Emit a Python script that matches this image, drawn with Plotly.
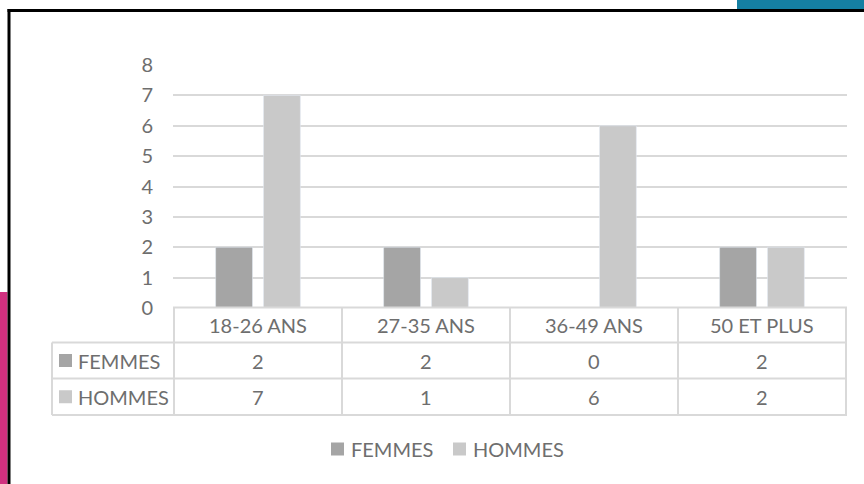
import plotly.graph_objects as go

# Age groups and headcounts per sex
categories = ["18-26 ANS", "27-35 ANS", "36-49 ANS", "50 ET PLUS"]
femmes = [2, 2, 0, 2]
hommes = [7, 1, 6, 2]
series_names = ["FEMMES", "HOMMES"]
y_ticks = [0, 1, 2, 3, 4, 5, 6, 7, 8]

W, H = 864, 484
FONT = "Lato"
FS = 20
TEXT = "#6e6e6e"
GRID = "#d9d9d9"
COL_F = "#a5a5a5"
COL_H = "#c9c9c9"


def px(x):
    return x / W


def py(y):
    return 1 - y / H


fig = go.Figure()
fig.add_trace(go.Bar(x=categories, y=femmes, name=series_names[0], marker_color=COL_F))
fig.add_trace(go.Bar(x=categories, y=hommes, name=series_names[1], marker_color=COL_H))

shapes = []
annotations = []

# Page decoration: black frame edges, teal tab and magenta band
shapes.append(dict(type="rect", xref="paper", yref="paper", x0=px(737), x1=px(864),
                   y0=py(0), y1=py(9), fillcolor="#157fa2", line_width=0, layer="below"))
shapes.append(dict(type="rect", xref="paper", yref="paper", x0=px(0), x1=px(7.5),
                   y0=py(292), y1=py(484), fillcolor="#d1307f", line_width=0, layer="below"))
shapes.append(dict(type="line", xref="paper", yref="paper", x0=px(7.5), x1=px(864),
                   y0=py(10.5), y1=py(10.5), line=dict(color="black", width=3)))
shapes.append(dict(type="line", xref="paper", yref="paper", x0=px(9), x1=px(9),
                   y0=py(9), y1=py(484), line=dict(color="black", width=3)))

# Data table beneath the plot
t_left, t_x0, t_x1 = 52, 173, 847
r_top, r1, r2, r3 = 307.5, 342.5, 378.5, 415
line = dict(color=GRID, width=2)
shapes.append(dict(type="line", xref="paper", yref="paper", x0=px(t_x0), x1=px(t_x1),
                   y0=py(r_top), y1=py(r_top), line=line))
for ry in (r1, r2, r3):
    shapes.append(dict(type="line", xref="paper", yref="paper", x0=px(t_left), x1=px(t_x1),
                       y0=py(ry), y1=py(ry), line=line))
shapes.append(dict(type="line", xref="paper", yref="paper", x0=px(t_left), x1=px(t_left),
                   y0=py(r1), y1=py(r3), line=line))
for i in range(len(categories) + 1):
    shapes.append(dict(type="line", xref="x", yref="paper", x0=i - 0.5, x1=i - 0.5,
                       y0=py(r_top), y1=py(r3), line=line))

# Header row: category labels
for c in categories:
    annotations.append(dict(x=c, xref="x", y=py((r_top + r1) / 2), yref="paper",
                            text=c, showarrow=False, font=dict(family=FONT, size=FS, color=TEXT),
                            xanchor="center", yanchor="middle"))

# Value rows with series keys
for name, vals, col, (ya, yb) in ((series_names[0], femmes, COL_F, (r1, r2)),
                                  (series_names[1], hommes, COL_H, (r2, r3))):
    yc = (ya + yb) / 2
    shapes.append(dict(type="rect", xref="paper", yref="paper", x0=px(59), x1=px(72),
                       y0=py(yc - 6.5), y1=py(yc + 6.5), fillcolor=col, line_width=0))
    annotations.append(dict(x=px(76), xref="paper", y=py(yc), yref="paper", text=name,
                            showarrow=False, font=dict(family=FONT, size=FS, color=TEXT),
                            xanchor="left", yanchor="middle"))
    for c, v in zip(categories, vals):
        annotations.append(dict(x=c, xref="x", y=py(yc), yref="paper", text=str(v),
                                showarrow=False, font=dict(family=FONT, size=FS, color=TEXT),
                                xanchor="center", yanchor="middle"))

# Legend below the table
ly = 449
for name, col, sx in ((series_names[0], COL_F, 331), (series_names[1], COL_H, 453)):
    shapes.append(dict(type="rect", xref="paper", yref="paper", x0=px(sx), x1=px(sx + 13),
                       y0=py(ly - 6.5), y1=py(ly + 6.5), fillcolor=col, line_width=0))
    annotations.append(dict(x=px(sx + 18), xref="paper", y=py(ly), yref="paper", text=name,
                            showarrow=False, font=dict(family=FONT, size=FS, color=TEXT),
                            xanchor="left", yanchor="middle"))

fig.update_layout(
    width=W, height=H,
    margin=dict(l=0, r=0, t=0, b=0, pad=0, autoexpand=False),
    paper_bgcolor="white", plot_bgcolor="white",
    barmode="group", bargap=0.43, bargroupgap=0.23,
    showlegend=False,
    font=dict(family=FONT, color=TEXT, size=FS),
    xaxis=dict(domain=[px(173), px(847)], showticklabels=False, showgrid=False,
               zeroline=False, showline=False, ticks="", automargin=False),
    yaxis=dict(domain=[py(308), py(65)], range=[0, 8], tickvals=y_ticks,
               showgrid=True, gridcolor=GRID, gridwidth=1.5, zeroline=False,
               showline=False, ticks="", ticklabelstandoff=19, automargin=False,
               tickfont=dict(family=FONT, size=FS, color=TEXT)),
    shapes=shapes,
    annotations=annotations,
)

fig.write_html("out.html")
